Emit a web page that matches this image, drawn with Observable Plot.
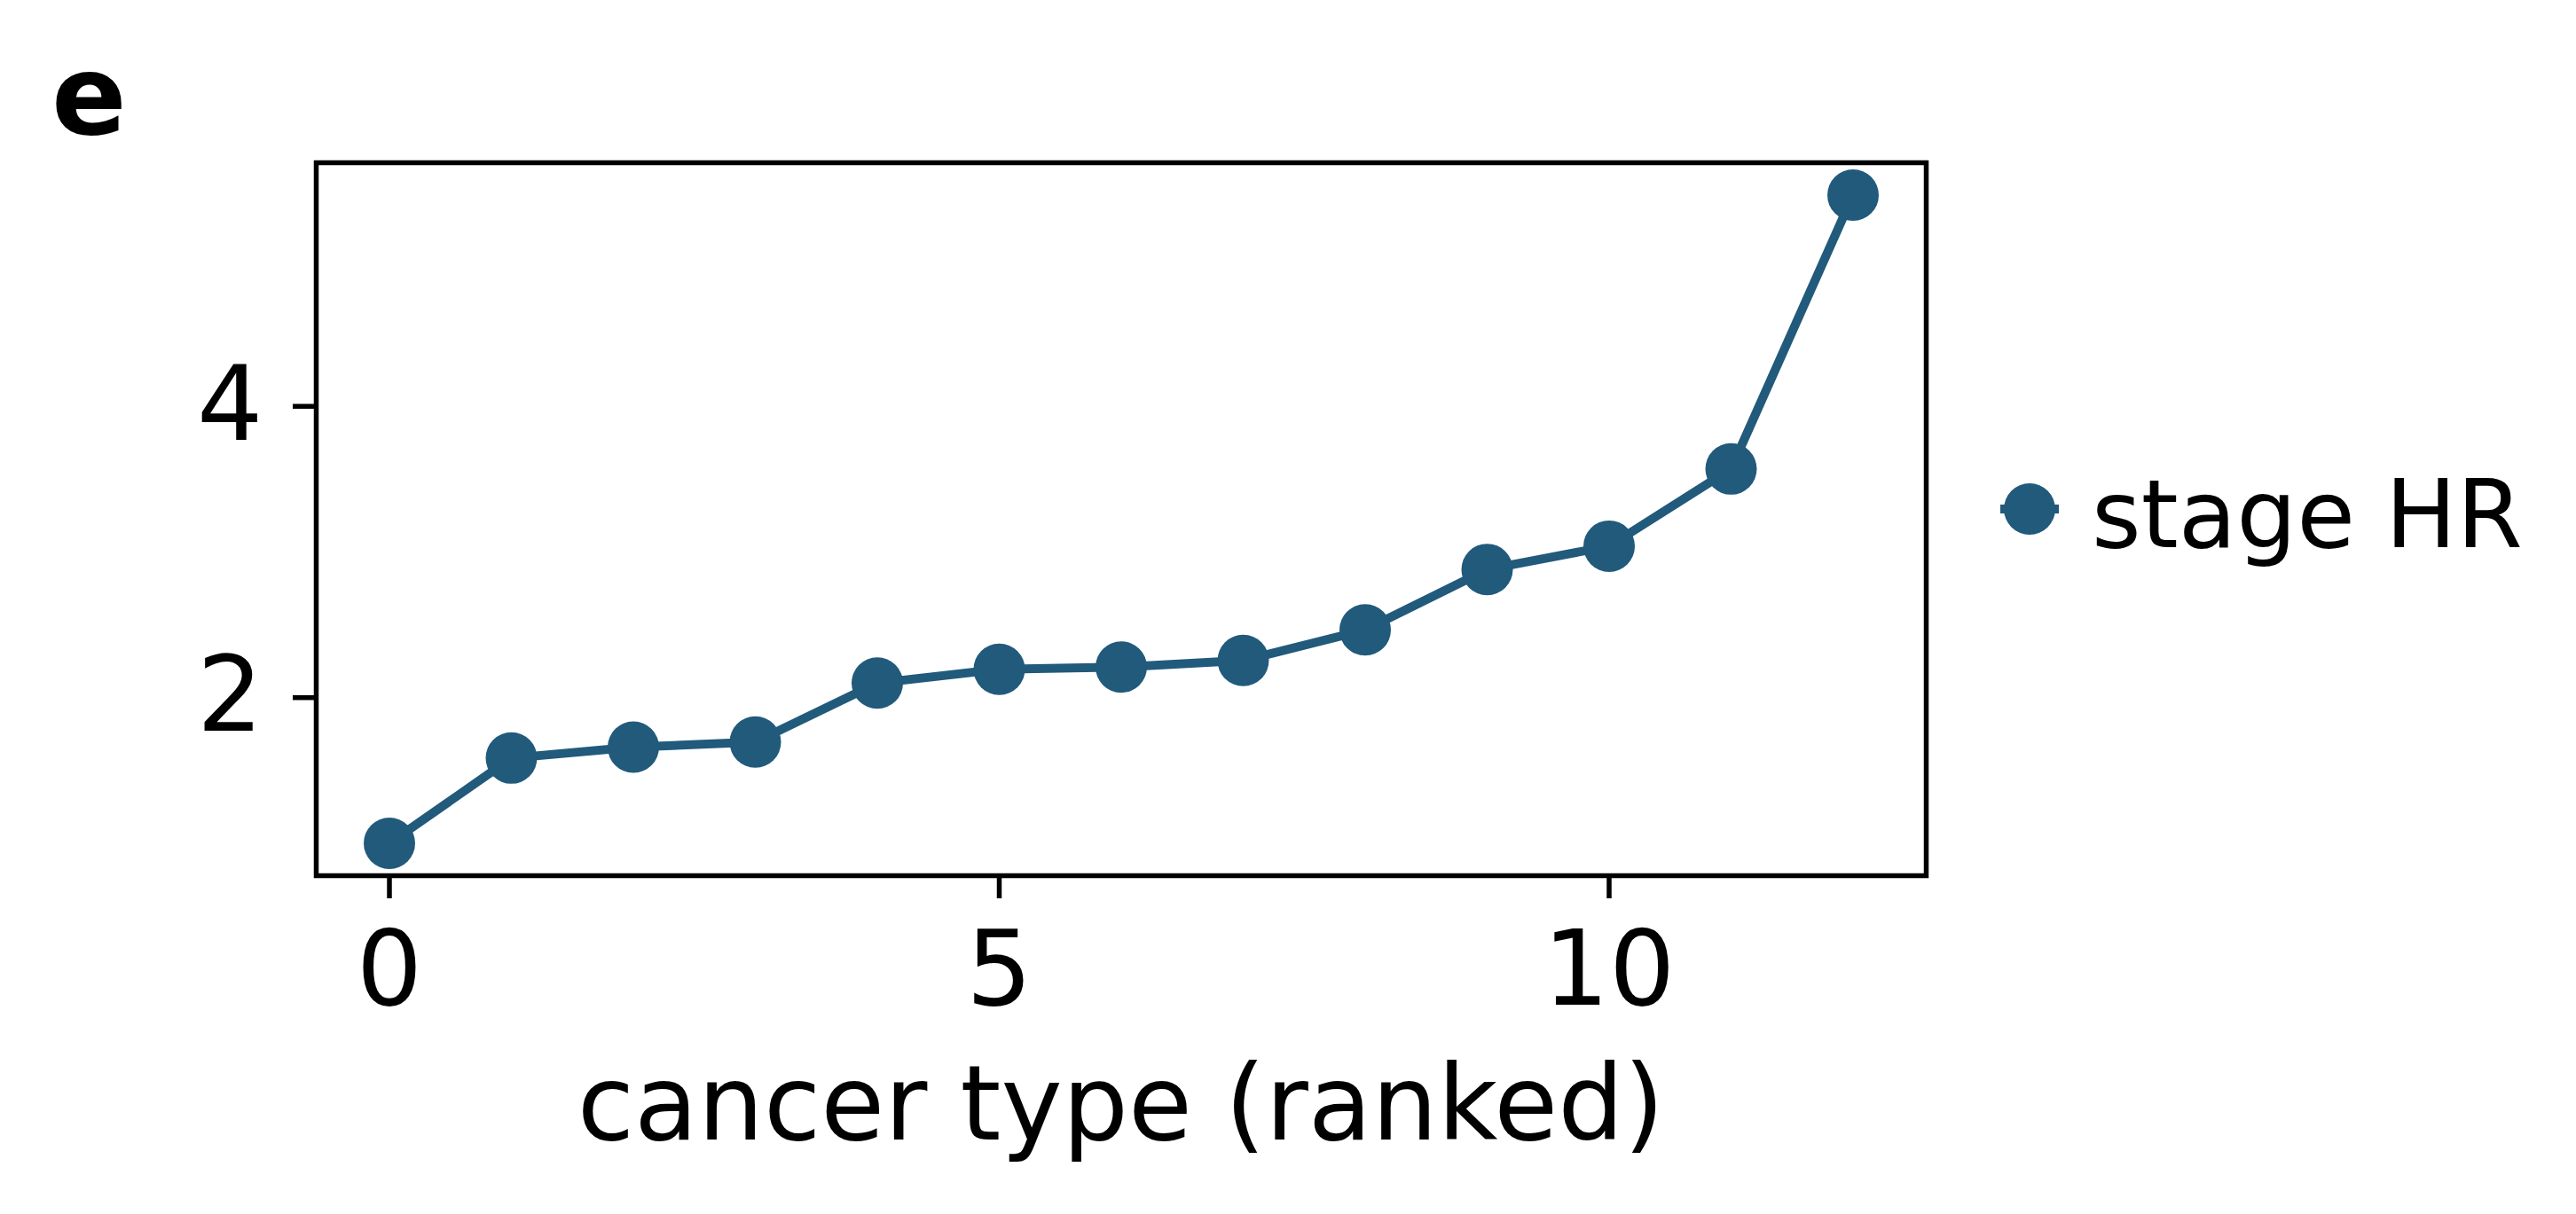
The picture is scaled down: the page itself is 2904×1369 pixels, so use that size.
<!DOCTYPE html>
<html>
<head>
<meta charset="utf-8">
<script src="https://cdn.jsdelivr.net/npm/d3@7"></script>
<script src="https://cdn.jsdelivr.net/npm/@observablehq/plot@0.6"></script>
<style>
  html, body { margin: 0; padding: 0; background: white; overflow: hidden; }
  #wrap { position: relative; width: 2904px; height: 1369px; }
  #overlay { position: absolute; left: 0; top: 0; pointer-events: none; }
</style>
</head>
<body>
<div id="wrap"></div>
<script>
// ---- data ----
const ranks = [0, 1, 2, 3, 4, 5, 6, 7, 8, 9, 10, 11, 12];
const stageHR = [1.0, 1.585, 1.66, 1.695, 2.10, 2.195, 2.21, 2.255, 2.465, 2.88, 3.04, 3.57, 5.45];
const xTicks = [0, 5, 10];
const yTicks = [2, 4];
const seriesName = "stage HR";
const xLabel = "cancer type (ranked)";
const panelLabel = "e";

const color = "#215a7b";
const data = ranks.map((r, i) => ({rank: r, hr: stageHR[i]}));

// matplotlib-like 5% margins
const xMin = d3.min(ranks), xMax = d3.max(ranks);
const yMin = d3.min(stageHR), yMax = d3.max(stageHR);
const xPad = (xMax - xMin) * 0.05, yPad = (yMax - yMin) * 0.05;

const W = 2904, H = 1369;
const mL = 356, mT = 183, mR = W - 2171, mB = H - 987;

const chart = Plot.plot({
  width: W,
  height: H,
  marginLeft: mL,
  marginTop: mT,
  marginRight: mR,
  marginBottom: mB,
  style: {fontFamily: "DejaVu Sans", background: "white", color: "black", overflow: "visible"},
  x: {domain: [xMin - xPad, xMax + xPad]},
  y: {domain: [yMin - yPad, yMax + yPad]},
  marks: [
    Plot.line(data, {x: "rank", y: "hr", stroke: color, strokeWidth: 10}),
    Plot.dot(data, {x: "rank", y: "hr", r: 29, fill: color, stroke: "none"}),
    Plot.frame({stroke: "black", strokeWidth: 5.5}),
    Plot.axisX({ticks: xTicks, tickSize: 26, tickPadding: 36, fontSize: 117, strokeWidth: 5.5, label: null, tickFormat: d => String(d)}),
    Plot.axisY({ticks: yTicks, tickSize: 26, tickPadding: 34, fontSize: 117, strokeWidth: 5.5, label: null, tickFormat: d => String(d)})
  ]
});
document.getElementById("wrap").appendChild(chart);

// overlay: panel label, x-axis title, legend
const ns = "http://www.w3.org/2000/svg";
const ov = d3.select("#wrap").append("svg")
  .attr("id", "overlay")
  .attr("width", W).attr("height", H)
  .style("font-family", "DejaVu Sans");

ov.append("text").attr("x", 58).attr("y", 151)
  .attr("font-size", 125).attr("font-weight", "bold").text(panelLabel);

ov.append("text").attr("x", (mL + (W - mR)) / 2).attr("y", 1285)
  .attr("font-size", 117).attr("text-anchor", "middle").text(xLabel);

const lg = ov.append("g");
lg.append("line").attr("x1", 2288 - 33).attr("x2", 2288 + 33)
  .attr("y1", 574).attr("y2", 574).attr("stroke", color).attr("stroke-width", 10);
lg.append("circle").attr("cx", 2288).attr("cy", 574).attr("r", 29).attr("fill", color);
lg.append("text").attr("x", 2358).attr("y", 617).attr("font-size", 107).text(seriesName);
</script>
</body>
</html>
